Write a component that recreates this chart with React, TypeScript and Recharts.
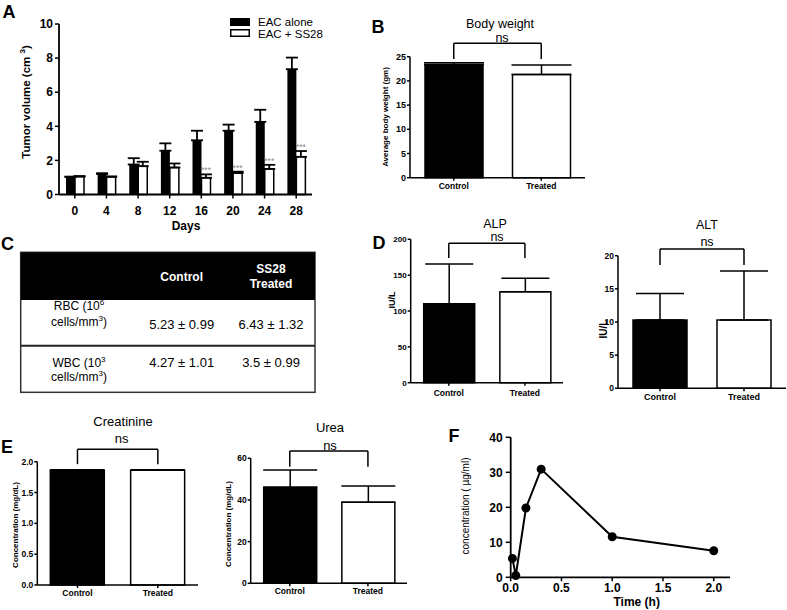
import React from "react";
import {
  BarChart,
  Bar,
  XAxis,
  YAxis,
  ErrorBar,
  Cell,
  ReferenceLine,
  LabelList,
  LineChart,
  Line,
} from "recharts";

const FONT = '"Liberation Sans", Arial, Helvetica, sans-serif';

// Panel A - tumour volume
const days = ["0", "4", "8", "12", "16", "20", "24", "28"];
const eacAlone = [1.02, 1.2, 1.76, 2.57, 3.18, 3.74, 4.26, 7.35];
const eacAloneErr = [0.03, 0.05, 0.37, 0.43, 0.56, 0.36, 0.71, 0.68];
const eacSS28 = [1.05, 1.04, 1.66, 1.58, 0.98, 1.26, 1.5, 2.21];
const eacSS28Err = [0.03, 0.02, 0.26, 0.24, 0.2, 0.08, 0.24, 0.34];
const sigMarks = ["", "", "", "", "***", "***", "***", "***"];
const volumeTicks = [0, 2, 4, 6, 8, 10];

// Panels B, D, E - control vs treated
const groups = ["Control", "Treated"];
const bodyWeight = [23.4, 21.3];
const bodyWeightErr = [0.35, 2.0];
const alp = [110, 127];
const alpErr = [55.5, 18.6];
const alt = [10.3, 10.3];
const altErr = [4.0, 7.4];
const creatinine = [1.86, 1.86];
const creatinineErr = [0.01, 0.01];
const urea = [46.1, 38.9];
const ureaErr = [8.3, 7.8];

// Panel C - blood counts
const countNames = ["RBC", "WBC"];
const countExps = ["6", "3"];
const countControl = ["5.23 \u00b1 0.99", "4.27 \u00b1 1.01"];
const countTreated = ["6.43 \u00b1 1.32", "3.5 \u00b1 0.99"];

// Panel F - plasma concentration
const times = [0.017, 0.05, 0.15, 0.3, 1.0, 2.0];
const conc = [5.4, 0.5, 19.8, 30.9, 11.6, 7.6];
const timeTicks = [0, 0.5, 1, 1.5, 2];
const concTicks = [0, 10, 20, 30, 40];

const axisStroke = { stroke: "#000", strokeWidth: 1.5 };

function PanelA() {
  const data = days.map((d, i) => ({
    day: d,
    alone: eacAlone[i],
    aloneErr: [0, eacAloneErr[i]],
    ss28: eacSS28[i],
    ss28Err: [0, eacSS28Err[i]],
  }));
  const stars = (props: any) => {
    const { x, y, width, height, index } = props;
    const mark = sigMarks[index];
    if (!mark) return null;
    const top = y - (eacSS28Err[index] / eacSS28[index]) * height;
    return (
      <text x={x + width / 2} y={top - 1} textAnchor="middle" fontSize={8.5} fill="#888" fontFamily={FONT}>
        {mark}
      </text>
    );
  };
  const tick = { fontSize: 12, fontWeight: 700, fill: "#000", fontFamily: FONT };
  return (
    <div style={{ position: "absolute", left: 0, top: 0 }}>
      <BarChart width={320} height={235} data={data} barGap={0} margin={{ top: 24, right: 8, bottom: 0, left: 0 }}>
        <XAxis dataKey="day" height={40.5} interval={0} axisLine={{ stroke: "#000", strokeWidth: 1.8 }} tickLine={{ stroke: "#000", strokeWidth: 1.5 }} tickSize={4} tickMargin={8} tick={tick} />
        <YAxis width={59} domain={[0, 10]} ticks={volumeTicks} interval={0} axisLine={{ stroke: "#000", strokeWidth: 1.8 }} tickLine={{ stroke: "#000", strokeWidth: 1.5 }} tickSize={4} tickMargin={2} tick={tick} />
        <Bar dataKey="alone" barSize={9} fill="#000" isAnimationActive={false}>
          <ErrorBar dataKey="aloneErr" width={6} stroke="#000" strokeWidth={1.8} direction="y" />
        </Bar>
        <Bar dataKey="ss28" barSize={9} fill="#fff" stroke="#000" strokeWidth={1.5} isAnimationActive={false}>
          <ErrorBar dataKey="ss28Err" width={6} stroke="#000" strokeWidth={1.8} direction="y" />
          <LabelList dataKey="ss28" content={stars} />
        </Bar>
      </BarChart>
    </div>
  );
}

type GroupProps = {
  left: number;
  top: number;
  width: number;
  height: number;
  marginTop: number;
  marginRight: number;
  yWidth: number;
  xHeight: number;
  values: number[];
  errs: number[];
  domain: [number, number];
  ticks: number[];
  barSize: number;
  cap: number;
  bracket: [number, number];
  fmt?: (v: number) => string;
  tickFont?: number;
  catFont?: number;
  catMargin?: number;
};

function GroupBars(p: GroupProps) {
  const data = groups.map((g, i) => ({ group: g, value: p.values[i], err: [0, p.errs[i]] }));
  const [hi, lo] = p.bracket;
  const tick = { fontSize: p.tickFont ?? 8.5, fontWeight: 700, fill: "#000", fontFamily: FONT };
  const cat = { fontSize: p.catFont ?? 8.5, fontWeight: 700, fill: "#000", fontFamily: FONT };
  return (
    <div style={{ position: "absolute", left: p.left, top: p.top }}>
      <BarChart width={p.width} height={p.height} data={data} margin={{ top: p.marginTop, right: p.marginRight, bottom: 0, left: 0 }}>
        <XAxis dataKey="group" height={p.xHeight} interval={0} axisLine={axisStroke} tickLine={axisStroke} tickSize={3} tickMargin={p.catMargin ?? 2} tick={cat} />
        <YAxis width={p.yWidth} domain={p.domain} ticks={p.ticks} interval={0} tickFormatter={p.fmt} axisLine={axisStroke} tickLine={axisStroke} tickSize={3} tickMargin={1} tick={tick} />
        <Bar dataKey="value" barSize={p.barSize} stroke="#000" strokeWidth={1.5} isAnimationActive={false}>
          {data.map((d, i) => (
            <Cell key={d.group} fill={i === 0 ? "#000" : "#fff"} />
          ))}
          <ErrorBar dataKey="err" width={p.cap} stroke="#000" strokeWidth={1.5} direction="y" />
        </Bar>
        <ReferenceLine ifOverflow="visible" stroke="#000" strokeWidth={1.5} segment={[{ x: groups[0], y: hi }, { x: groups[1], y: hi }]} />
        <ReferenceLine ifOverflow="visible" stroke="#000" strokeWidth={1.5} segment={[{ x: groups[0], y: hi }, { x: groups[0], y: lo }]} />
        <ReferenceLine ifOverflow="visible" stroke="#000" strokeWidth={1.5} segment={[{ x: groups[1], y: hi }, { x: groups[1], y: lo }]} />
      </BarChart>
    </div>
  );
}

function PanelF() {
  const data = times.map((t, i) => ({ t, c: conc[i] }));
  const tick = { fontSize: 12, fontWeight: 700, fill: "#000", fontFamily: FONT };
  return (
    <div style={{ position: "absolute", left: 470, top: 420 }}>
      <LineChart width={270} height={190} data={data} margin={{ top: 17.3, right: 10, bottom: 0, left: 0 }}>
        <XAxis dataKey="t" type="number" domain={[0, 2.16]} ticks={timeTicks} interval={0} tickFormatter={(v: number) => v.toFixed(1)} height={32.7} axisLine={{ stroke: "#000", strokeWidth: 1.8 }} tickLine={axisStroke} tickSize={4} tickMargin={2} tick={tick} />
        <YAxis width={40.7} domain={[0, 40]} ticks={concTicks} interval={0} axisLine={{ stroke: "#000", strokeWidth: 1.8 }} tickLine={axisStroke} tickSize={5} tickMargin={3} tick={tick} />
        <Line dataKey="c" type="linear" stroke="#000" strokeWidth={2} dot={{ r: 3.5, fill: "#000", stroke: "#000" }} isAnimationActive={false} />
      </LineChart>
    </div>
  );
}

function VText({ x, y, size, bold, children }: any) {
  return (
    <text transform={`translate(${x},${y}) rotate(-90)`} textAnchor="middle" dominantBaseline="central" fontSize={size} fontWeight={bold ? 700 : 400} fontFamily={FONT} fill="#000">
      {children}
    </text>
  );
}

function HText({ x, y, size, bold, fill, anchor, children }: any) {
  return (
    <text x={x} y={y} textAnchor={anchor ?? "middle"} dominantBaseline="central" fontSize={size} fontWeight={bold ? 700 : 400} fontFamily={FONT} fill={fill ?? "#000"}>
      {children}
    </text>
  );
}

function Overlay() {
  const colX = [79, 181.7, 271];
  const rowLine1 = [306, 362.7];
  const rowLine2 = [322.3, 376.7];
  const rowValue = [324, 362.7];
  return (
    <svg width={787} height={610} style={{ position: "absolute", left: 0, top: 0, pointerEvents: "none" }}>
      {/* panel letters */}
      <HText x={9} y={11.5} size={18} bold>A</HText>
      <HText x={378} y={26.5} size={18} bold>B</HText>
      <HText x={7.5} y={244} size={18} bold>C</HText>
      <HText x={379} y={243} size={18} bold>D</HText>
      <HText x={7} y={446.5} size={18} bold>E</HText>
      <HText x={454} y={435.5} size={18} bold>F</HText>

      {/* panel A labels */}
      <VText x={26} y={102} size={11.5} bold>
        Tumor volume (cm <tspan dy={-4} fontSize={8}>3</tspan>
        <tspan dy={4}>)</tspan>
      </VText>
      <HText x={186} y={226} size={12} bold>Days</HText>
      <rect x={230} y={18} width={20} height={8} fill="#000" />
      <rect x={230.75} y={29.75} width={18.5} height={6.5} fill="#fff" stroke="#000" strokeWidth={1.5} />
      <HText x={258} y={22.3} size={11.5} anchor="start">EAC alone</HText>
      <HText x={258} y={33.6} size={11.5} anchor="start">EAC + SS28</HText>

      {/* panel B labels */}
      <HText x={500} y={24} size={12.5}>Body weight</HText>
      <HText x={502} y={37.5} size={12.5}>ns</HText>
      <VText x={385} y={117} size={8} bold>Average body weight (gm)</VText>

      {/* panel C table */}
      <rect x={20.7} y={252.3} width={294.3} height={140} fill="#fff" stroke="#333" strokeWidth={1.5} />
      <rect x={20.7} y={252.3} width={294.3} height={47.7} fill="#000" />
      <line x1={20.7} x2={315} y1={345.7} y2={345.7} stroke="#222" strokeWidth={2} />
      <HText x={colX[1]} y={276.7} size={12} bold fill="#fff">Control</HText>
      <HText x={colX[2]} y={269.3} size={12} bold fill="#fff">SS28</HText>
      <HText x={colX[2]} y={284} size={12} bold fill="#fff">Treated</HText>
      {countNames.map((n, i) => (
        <g key={n}>
          <text x={colX[0]} y={rowLine1[i]} textAnchor="middle" dominantBaseline="central" fontSize={12} fontFamily={FONT} fill="#000">
            {n} (10<tspan dy={-4} fontSize={8}>{countExps[i]}</tspan>
          </text>
          <text x={colX[0]} y={rowLine2[i]} textAnchor="middle" dominantBaseline="central" fontSize={12} fontFamily={FONT} fill="#000">
            cells/mm<tspan dy={-4} fontSize={8}>3</tspan>
            <tspan dy={4}>)</tspan>
          </text>
          <HText x={colX[1]} y={rowValue[i]} size={13}>{countControl[i]}</HText>
          <HText x={colX[2]} y={rowValue[i]} size={13}>{countTreated[i]}</HText>
        </g>
      ))}

      {/* panel D labels */}
      <HText x={495} y={223.5} size={12.5}>ALP</HText>
      <HText x={497} y={237} size={12.5}>ns</HText>
      <VText x={392} y={300} size={9} bold>IU/L</VText>
      <HText x={707} y={225} size={12.5}>ALT</HText>
      <HText x={707} y={242} size={12.5}>ns</HText>
      <VText x={603} y={329} size={10} bold>IU/L</VText>

      {/* panel E labels */}
      <HText x={123} y={421.7} size={13}>Creatinine</HText>
      <HText x={121.7} y={438} size={13}>ns</HText>
      <VText x={15.7} y={525} size={8} bold>Concentration (mg/dL)</VText>
      <HText x={330} y={427} size={13}>Urea</HText>
      <HText x={330} y={445} size={13}>ns</HText>
      <VText x={228.3} y={524} size={8} bold>Concentration (mg/dL)</VText>

      {/* panel F labels */}
      <VText x={465} y={506} size={10}>concentration ( {"\u00b5"}g/ml)</VText>
      <HText x={636.7} y={602} size={12} bold>Time (h)</HText>
    </svg>
  );
}

export default function App() {
  return (
    <div style={{ position: "absolute", left: 0, top: 0, width: 787, height: 610, background: "#fff", fontFamily: FONT }}>
      <PanelA />
      <GroupBars left={380} top={0} width={215} height={200} marginTop={56.7} marginRight={10} yWidth={30} xHeight={22.3}
        values={bodyWeight} errs={bodyWeightErr} domain={[0, 25]} ticks={[0, 5, 10, 15, 20, 25]}
        barSize={58} cap={30} bracket={[27.8, 24.5]} tickFont={9} catFont={8.5} />
      <GroupBars left={385} top={200} width={185} height={210} marginTop={39.3} marginRight={7} yWidth={25.7} xHeight={27.3}
        values={alp} errs={alpErr} domain={[0, 200]} ticks={[0, 50, 100, 150, 200]}
        barSize={51} cap={24} bracket={[194.4, 174]} tickFont={8} catFont={8.5} catMargin={4} />
      <GroupBars left={590} top={200} width={197} height={205} marginTop={55.7} marginRight={1} yWidth={28} xHeight={16.7}
        values={alt} errs={altErr} domain={[0, 20]} ticks={[0, 5, 10, 15, 20]}
        barSize={54} cap={24} bracket={[21, 18.6]} tickFont={8.5} catFont={9} />
      <GroupBars left={0} top={420} width={200} height={185} marginTop={41.7} marginRight={2} yWidth={37.3} xHeight={20}
        values={creatinine} errs={creatinineErr} domain={[0, 2]} ticks={[0, 0.5, 1, 1.5, 2]} fmt={(v: number) => v.toFixed(1)}
        barSize={54} cap={27} bracket={[2.2, 1.96]} tickFont={8.5} catFont={8.5} />
      <GroupBars left={215} top={420} width={195} height={185} marginTop={38.3} marginRight={3} yWidth={35.7} xHeight={21.7}
        values={urea} errs={ureaErr} domain={[0, 60]} ticks={[0, 20, 40, 60]}
        barSize={53} cap={27} bracket={[63.5, 56]} tickFont={8.5} catFont={8.5} />
      <PanelF />
      <Overlay />
    </div>
  );
}
